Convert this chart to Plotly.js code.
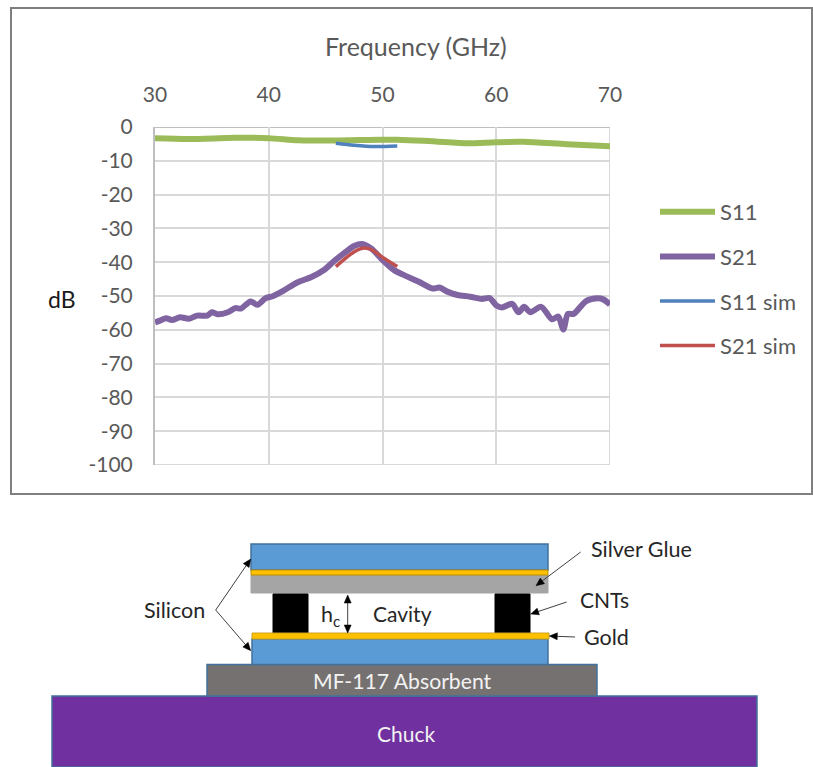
<!DOCTYPE html>
<html><head><meta charset="utf-8">
<script src="https://cdn.plot.ly/plotly-3.0.1.min.js"></script>
<style>html,body{margin:0;padding:0;background:#fff}</style></head>
<body><div id="chart" style="width:813px;height:767px"></div>
<script>
const s21Freq=[30,30.44,30.97,31.5,32.2,33,33.7,34.6,35,35.5,36.4,37.06,37.56,38.4,39,39.7,40.4,41.3,42.5,43.8,44.85,45.7,46.6,47.5,48.2,49,50,51,51.75,53.2,54.4,55,55.7,56.6,57.7,58.75,59.4,60.05,60.5,61.4,61.95,62.45,63,63.95,64.9,65.45,65.9,66.3,66.8,67.9,68.9,69.4,70];
const s21Vals=[-57.8,-57.3,-56.6,-57.1,-56.3,-56.7,-55.8,-55.8,-54.8,-55.4,-54.8,-53.6,-53.7,-51.6,-52.6,-50.7,-50,-48.4,-46,-44.3,-42.3,-39.8,-37.4,-35.2,-34.6,-35.9,-39.3,-42.3,-43.6,-45.8,-47.8,-47.5,-48.7,-49.7,-50.2,-50.9,-50.6,-52.9,-53.4,-52.3,-54.8,-53.2,-54.8,-53.2,-56.9,-56.1,-59.9,-55.3,-55.3,-51.5,-50.7,-51,-52.5];
const s11Freq=[30,33,37,40,42.6,45.7,49.85,51.3,53.6,57.4,60,62.4,66.2,70];
const s11Vals=[-3.35,-3.55,-3.2,-3.3,-3.9,-4,-3.75,-3.8,-4.1,-4.8,-4.5,-4.4,-5.1,-5.7];
const s11SimFreq=[45.9,47.5,49.3,51.3];
const s11SimVals=[-4.8,-5.4,-5.8,-5.6];
const s21SimFreq=[45.9,46.9,47.8,48.4,49.1,49.85,51.3];
const s21SimVals=[-41.3,-38.4,-36.4,-35.8,-36.4,-38.2,-41.3];
const xTicks=[30,40,50,60,70];
const yTicks=[0,-10,-20,-30,-40,-50,-60,-70,-80,-90,-100];
const yTickLabels=['0','-10','-20','-30','-40','-50','-60','-70','-80','-90','-100'];

const W=813,H=767,FONT='Lato, Carlito, sans-serif',TXT='#595959',DARK='#262626';
const px=x=>x/W, py=y=>1-y/H;
const line=(name,x,y,color,width,group)=>({type:'scatter',mode:'lines',name,x,y,legendgroup:group,
  line:{color,width,shape:'spline',smoothing:0.8}});
const traces=[
  line('S11',s11Freq,s11Vals,'#9bbb59',6,'a'),
  line('S21',s21Freq,s21Vals,'#8064a2',6,'b'),
  line('S11 sim',s11SimFreq,s11SimVals,'#4f81bd',3.5,'c'),
  line('S21 sim',s21SimFreq,s21SimVals,'#c0504d',3.5,'d')
];
const rect=(x0,y0,x1,y1,fill,lc,lw)=>({type:'rect',xref:'paper',yref:'paper',layer:'above',
  x0:px(x0),x1:px(x1),y0:py(y1),y1:py(y0),fillcolor:fill,line:{color:lc||fill,width:lw===undefined?1:lw}});
const arrow=(x0,y0,x1,y1)=>{
  const d=Math.hypot(x1-x0,y1-y0),ux=(x1-x0)/d,uy=(y1-y0)/d,L=8,Hw=3.5;
  const bx=x1-ux*L,by=y1-uy*L;
  const P=(x,y)=>px(x)+','+py(y);
  return [
    {type:'line',xref:'paper',yref:'paper',layer:'above',x0:px(x0),x1:px(bx),y0:py(y0),y1:py(by),line:{color:'#404040',width:1}},
    {type:'path',xref:'paper',yref:'paper',layer:'above',
     path:'M'+P(x1,y1)+' L'+P(bx-uy*Hw,by+ux*Hw)+' L'+P(bx+uy*Hw,by-ux*Hw)+' Z',fillcolor:'#000',line:{color:'#000',width:0.5}}
  ];
};
const edge=(x0,y0,x1,y1,color)=>({type:'line',xref:'x',yref:'y',layer:'below',x0,x1,y0,y1,line:{color,width:2}});
const shapes=[
  {type:'rect',xref:'paper',yref:'paper',layer:'below',x0:px(11),x1:px(812),y0:py(494),y1:py(8),fillcolor:'rgba(0,0,0,0)',line:{color:'#7f7f7f',width:2}},
  edge(30,-100,70,-100,'#d9d9d9'),
  edge(70,-100,70,0,'#d9d9d9'),
  edge(30,0,70,0,'#bfbfbf'),
  rect(52,696,757,767,'#7030a0','#41719c',1.5),
  rect(207,664.5,597,696,'#767171','#41719c',1.5),
  rect(251,544,548,570,'#5b9bd5','#41719c',1.5),
  rect(251,575,548,593,'#a5a5a5','#a5a5a5',1),
  rect(251,570,548,575,'#ffc000','#bf9000',1),
  rect(273,594,308,633,'#000000'),
  rect(495,594,530,633,'#000000'),
  rect(252,639,548,664.5,'#5b9bd5','#41719c',1.5),
  rect(252,633,549,639,'#ffc000','#c9a227',1),
  ...arrow(215.7,610,250.7,559),
  ...arrow(215.7,610,250.7,650.7),
  ...arrow(347.7,614,347.7,595),
  ...arrow(347.7,614,347.7,633),
  ...arrow(580.7,552,536,585.7),
  ...arrow(566.7,602,530.7,614),
  ...arrow(575,637,549.3,636)
];
const label=(x,y,text,color,size)=>({xref:'paper',yref:'paper',x:px(x),y:py(y),text,showarrow:false,
  xanchor:'center',yanchor:'middle',font:{family:FONT,size:size||21.5,color:color||DARK}});
const annotations=[
  label(416,46,'Frequency (GHz)',TXT,25),
  label(62,299,'dB','#1a1a1a',23),
  label(174,610,'Silicon'),
  label(330,615,'h<sub>c</sub>'),
  label(402,613,'Cavity',DARK,21),
  label(641,549,'Silver Glue'),
  label(604,599,'CNTs',DARK,21),
  label(606,637,'Gold'),
  label(402,681,'MF-117 Absorbent','#f2f2f2',21.2),
  label(406,733,'Chuck','#f2f2f2',21)
];
const layout={
  width:W,height:H,margin:{l:0,r:0,t:0,b:0},paper_bgcolor:'#fff',plot_bgcolor:'#fff',
  font:{family:FONT,color:TXT,size:21},
  xaxis:{domain:[px(155),px(610)],range:[30,70],side:'top',tickvals:xTicks,
    ticks:'outside',ticklen:16,tickcolor:'rgba(0,0,0,0)',
    showgrid:true,gridcolor:'#d9d9d9',gridwidth:2,zeroline:false,showline:false,
    tickfont:{family:FONT,size:21,color:TXT}},
  yaxis:{domain:[py(465),py(127)],range:[-100,0],tickvals:yTicks,ticktext:yTickLabels,
    ticks:'outside',ticklen:16,tickcolor:'rgba(0,0,0,0)',
    showgrid:true,gridcolor:'#d9d9d9',gridwidth:2,zeroline:false,
    showline:true,linecolor:'#bfbfbf',linewidth:2,mirror:false,
    tickfont:{family:FONT,size:21,color:TXT}},
  showlegend:true,
  legend:{x:px(655),y:py(191),xanchor:'left',yanchor:'top',traceorder:'grouped',tracegroupgap:13,itemwidth:55,
    font:{family:FONT,size:22,color:TXT},bgcolor:'rgba(0,0,0,0)'},
  shapes,annotations
};
Plotly.newPlot('chart',traces,layout,{displayModeBar:false,staticPlot:true});
</script></body></html>
